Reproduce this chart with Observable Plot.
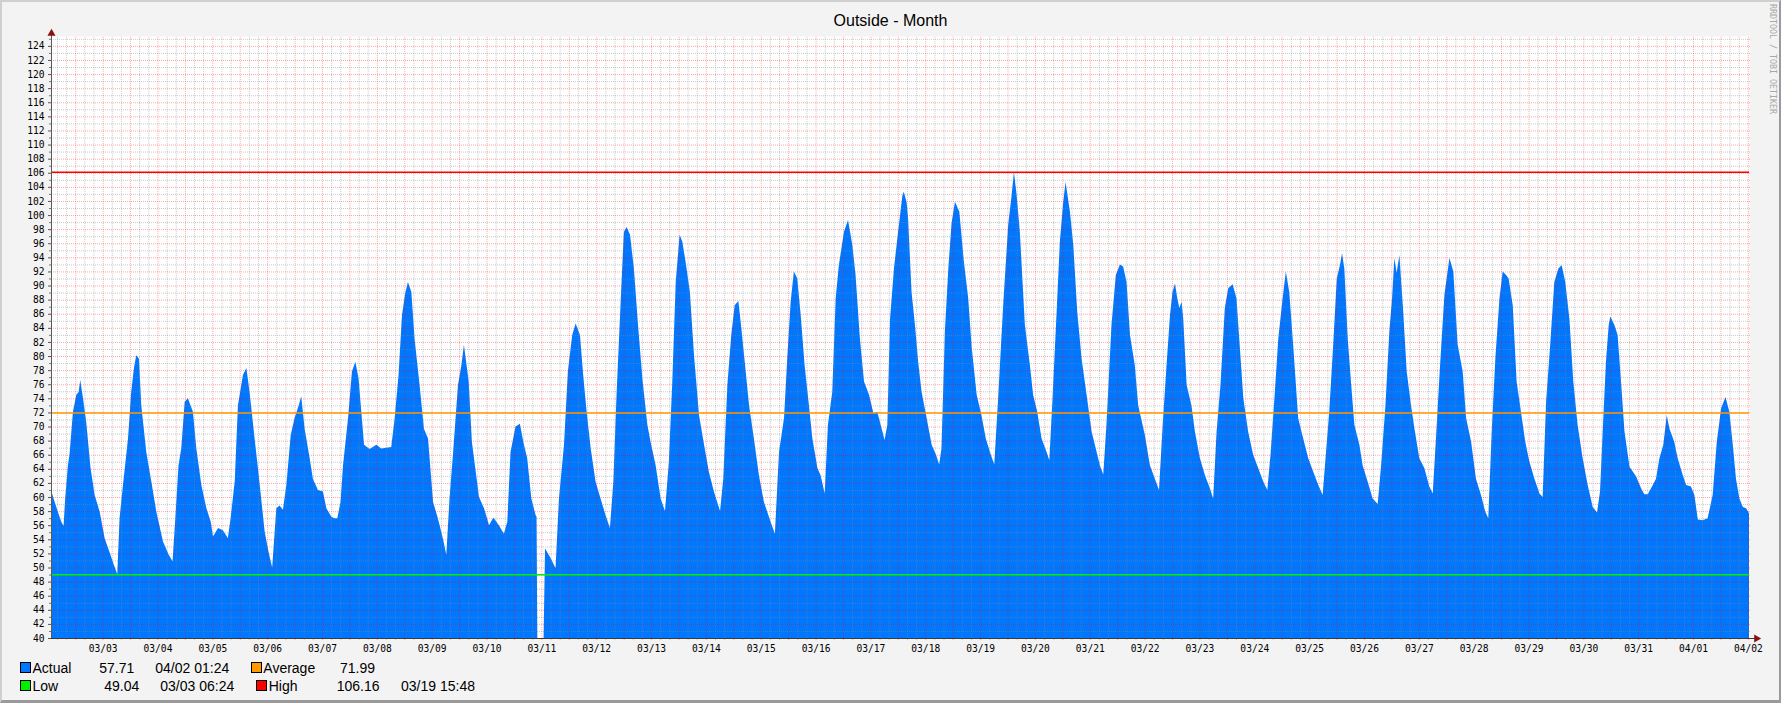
<!DOCTYPE html>
<html>
<head>
<meta charset="utf-8">
<script src="https://cdn.jsdelivr.net/npm/d3@7"></script>
<script src="https://cdn.jsdelivr.net/npm/@observablehq/plot@0.6"></script>
<style>
  html, body { margin: 0; padding: 0; background: #f3f3f3; }
  #card { position: relative; width: 1781px; height: 703px; background: #f3f3f3; overflow: hidden;
          font-family: "Liberation Sans", Arial, sans-serif; color: #000; }
  #card::after { content: ""; position: absolute; left: 0; top: 0; width: 1781px; height: 703px; box-sizing: border-box;
          border-top: 2px solid #cfcfcf; border-left: 2px solid #cfcfcf; border-right: 2px solid #9a9a9a; border-bottom: 3px solid #9a9a9a; pointer-events: none; }
  #chart { position: absolute; left: 0; top: 0; }
  #title { position: absolute; left: 0; top: 11px; width: 1781px; text-align: center; font-size: 16px; line-height: 20px; }
  #mark { position: absolute; left: 1768px; top: 4px; writing-mode: vertical-rl; font-family: "DejaVu Sans Mono", monospace;
          font-size: 8.3px; line-height: 9px; color: #a8a8a8; white-space: nowrap; }
  .lg { position: absolute; font-size: 14px; line-height: 16px; white-space: nowrap; }
  .sw { position: absolute; width: 9px; height: 9px; border: 1px solid #000; }
</style>
</head>
<body>
<div id="card">
  <div id="chart"></div>
  <div id="title"></div>
  <div id="mark"></div>
  <div id="legend"></div>
</div>
<script>
// ---------------- data ----------------
const chartTitle = "Outside - Month";
const watermark = "RRDTOOL / TOBI OETIKER";

// readings: [hours after 03/03 00:00, temperature]; null = missing data
const readings = [
  [-22.6,61.0],[-21.0,59.3],[-19.6,57.9],[-18.1,56.5],[-17.1,55.9],[-16.4,59.8],[-15.2,64.5],[-14.5,66.0],[-13.0,72.1],[-11.5,74.5],
  [-10.5,74.9],[-9.8,76.6],[-8.6,74.0],[-7.2,70.7],[-5.3,64.1],[-3.5,60.3],[-1.3,57.9],[0.9,54.1],[3.0,52.2],[4.9,50.4],
  [6.4,49.04],[7.4,57.0],[8.9,61.7],[11.1,68.3],[12.5,74.9],[13.7,78.3],[14.7,80.1],[15.9,79.6],[16.9,73.0],[19.1,66.4],
  [21.3,62.2],[23.5,57.9],[26.4,53.7],[28.9,51.8],[30.6,50.9],[31.8,57.0],[33.2,64.5],[34.4,66.9],[35.9,73.5],[37.3,74.0],
  [39.5,72.1],[41.0,66.9],[43.2,61.7],[45.4,58.4],[47.3,56.5],[48.3,54.4],[50.5,55.6],[52.6,55.3],[54.8,54.2],[56.0,57.0],
  [57.8,62.2],[59.2,73.0],[61.4,77.3],[62.9,78.3],[64.3,74.9],[66.5,68.3],[68.3,63.1],[70.9,55.1],[72.6,52.2],[74.2,50.0],
  [76.0,58.4],[77.4,58.8],[78.9,58.2],[80.4,61.7],[82.3,68.8],[84.0,71.2],[85.8,73.0],[86.9,74.3],[88.4,69.7],[90.6,65.5],
  [92.0,62.6],[94.2,61.0],[96.4,60.8],[97.9,58.4],[100.1,57.2],[101.5,57.0],[102.7,57.0],[104.1,59.3],[105.2,64.5],[107.4,71.2],
  [109.1,77.8],[110.6,79.2],[112.0,76.8],[113.2,72.1],[114.4,67.4],[116.8,66.8],[119.8,67.4],[121.9,66.9],[126.3,67.1],[127.8,71.2],
  [129.5,77.3],[131.0,85.8],[132.4,88.9],[133.6,90.5],[135.1,89.1],[136.5,82.5],[138.7,75.9],[140.6,69.7],[142.4,68.3],[144.6,59.3],
  [146.7,57.0],[148.9,54.1],[150.4,51.8],[151.8,59.8],[153.3,66.0],[155.5,75.9],[157.0,78.7],[158.1,81.6],[160.2,76.4],[161.6,67.8],
  [164.7,60.0],[166.9,58.4],[169.1,56.0],[171.0,57.1],[173.4,56.0],[175.6,54.8],[177.1,56.5],[178.5,66.4],[180.7,70.0],[182.6,70.4],
  [184.1,67.8],[185.8,65.5],[187.6,59.8],[189.5,57.4],[189.9,57.2],[191.0,null],[193.6,52.7],[196.1,51.3],[198.2,49.9],[199.7,59.8],
  [201.9,67.4],[203.6,77.8],[205.5,83.0],[207.0,84.6],[208.9,83.0],[210.3,77.3],[211.8,72.1],[213.6,66.9],[215.7,62.2],[217.9,59.8],
  [220.1,57.4],[222.0,55.6],[223.5,62.2],[224.9,74.5],[226.7,87.7],[228.1,97.6],[229.3,98.3],[230.8,97.2],[232.5,92.4],[234.3,84.4],
  [236.2,76.8],[238.4,70.2],[239.8,67.8],[242.0,64.5],[244.2,59.8],[246.1,58.0],[247.8,65.0],[249.3,76.4],[250.8,90.5],[252.5,97.2],
  [253.7,96.2],[255.1,93.4],[257.0,89.1],[258.8,80.1],[261.0,71.6],[263.2,67.4],[265.3,63.6],[267.5,60.8],[270.2,58.0],[271.6,62.6],
  [273.4,75.9],[275.1,83.0],[276.6,87.2],[278.2,87.8],[279.2,84.9],[281.0,79.2],[282.9,73.0],[285.0,68.3],[287.2,63.1],[289.4,59.3],
  [292.3,56.5],[294.2,54.8],[296.0,66.4],[298.2,71.2],[299.6,79.7],[301.1,87.7],[302.5,92.0],[304.0,91.0],[305.5,85.8],[307.2,78.7],
  [309.1,73.0],[310.6,68.3],[312.8,64.1],[314.2,63.1],[316.0,60.5],[317.4,70.2],[319.3,74.9],[320.8,88.2],[322.2,92.9],[324.4,97.6],
  [326.2,99.3],[328.1,95.7],[329.5,91.5],[331.4,82.5],[333.2,76.4],[335.4,74.5],[337.3,71.9],[339.0,72.1],[340.5,70.2],[342.2,68.1],
  [343.4,70.2],[344.6,85.3],[346.3,92.4],[348.1,97.6],[350.0,102.8],[350.6,103.3],[351.8,101.9],[352.5,99.5],[354.0,89.1],[355.5,84.4],
  [356.9,79.2],[358.4,74.9],[360.6,71.2],[362.8,67.4],[364.7,66.0],[366.1,64.6],[367.1,66.9],[368.6,83.5],[370.1,92.4],[371.5,98.8],
  [373.0,101.9],[374.9,100.5],[376.9,93.4],[378.8,88.2],[380.3,81.3],[382.5,74.5],[384.6,71.6],[386.5,68.3],[388.3,66.4],[390.2,64.6],
  [391.9,74.0],[394.1,87.2],[396.3,98.6],[397.8,102.8],[398.8,106.16],[400.0,102.8],[401.4,97.6],[403.6,84.4],[405.8,78.7],[407.2,74.5],
  [409.0,72.1],[410.9,68.3],[413.1,66.4],[414.3,65.2],[415.7,74.0],[417.5,86.3],[418.9,96.2],[420.4,101.9],[421.4,104.7],[423.3,100.5],
  [424.8,95.7],[426.5,86.3],[428.4,79.7],[430.6,74.5],[432.8,69.3],[435.0,66.4],[436.4,64.5],[437.9,63.2],[439.3,70.2],[441.5,84.4],
  [443.4,91.5],[445.2,93.0],[446.6,92.7],[448.1,90.5],[449.6,83.0],[451.7,78.7],[453.2,73.0],[456.1,68.8],[458.3,64.5],[460.5,62.6],
  [462.3,61.0],[463.9,70.2],[465.6,78.7],[467.1,85.8],[468.2,89.1],[469.3,90.3],[470.3,88.2],[471.2,86.8],[472.2,87.7],[472.9,85.3],
  [474.4,75.9],[476.5,73.0],[478.0,69.3],[480.2,65.5],[482.4,63.1],[484.6,61.2],[486.0,59.8],[487.5,69.3],[489.2,75.9],[491.1,86.8],
  [492.6,89.6],[494.5,90.2],[496.2,88.2],[497.7,81.1],[499.2,74.0],[501.3,69.3],[503.5,66.0],[505.7,64.1],[507.9,62.2],[509.7,61.0],
  [511.1,66.0],[513.0,74.9],[514.5,82.5],[516.4,88.2],[517.8,92.0],[519.3,89.1],[521.0,81.6],[523.2,71.2],[525.4,68.3],[527.6,65.5],
  [529.8,63.6],[532.0,61.7],[533.9,60.3],[535.3,66.0],[536.8,72.1],[538.6,82.0],[540.1,91.0],[541.5,92.9],[542.4,94.6],[543.4,92.4],
  [544.9,82.5],[546.3,76.4],[547.8,70.2],[550.0,67.4],[551.4,64.5],[553.6,62.2],[555.8,59.8],[558.0,59.0],[559.5,64.5],[561.4,73.0],
  [563.1,83.5],[564.3,88.2],[565.3,93.9],[566.3,91.8],[567.5,94.3],[569.0,87.2],[570.7,77.8],[572.6,73.0],[574.1,69.7],[576.2,65.5],
  [578.4,64.1],[580.6,61.5],[582.1,60.5],[583.5,68.3],[585.3,78.7],[587.2,88.7],[588.6,92.0],[589.4,93.9],[591.1,92.0],[593.0,81.6],
  [595.2,77.8],[596.7,71.2],[598.9,67.8],[601.0,62.6],[603.2,60.3],[605.1,57.9],[606.4,57.0],[607.9,69.3],[609.5,79.7],[611.3,88.2],
  [612.7,92.0],[614.2,91.5],[615.3,91.0],[617.1,87.2],[618.8,76.4],[620.7,72.1],[622.6,67.8],[624.4,65.0],[626.6,62.6],[628.8,60.5],
  [630.2,60.0],[631.7,73.5],[633.4,81.1],[635.3,90.5],[637.1,92.4],[638.5,92.9],[640.1,90.5],[641.9,85.3],[643.6,76.4],[645.5,70.2],
  [647.7,65.5],[649.9,61.7],[652.1,58.6],[654.0,57.8],[655.3,60.8],[656.8,71.6],[657.9,79.2],[659.1,84.4],[659.8,85.6],[661.6,84.4],
  [663.0,83.0],[664.5,76.4],[666.0,69.3],[668.2,64.3],[671.1,62.9],[673.3,61.2],[674.7,60.4],[676.2,60.4],[678.4,61.7],[679.8,62.6],
  [681.3,65.5],[683.0,67.4],[684.5,71.6],[685.7,69.7],[687.8,67.8],[689.3,65.5],[691.5,63.1],[693.0,61.7],[695.1,61.5],[696.6,60.3],
  [698.1,56.8],[700.2,56.7],[702.4,57.0],[704.6,60.3],[706.4,67.8],[708.3,72.6],[710.2,74.2],[711.9,72.1],[713.4,67.4],[714.8,62.6],
  [716.3,59.8],[717.8,58.6],[719.2,58.4],[720.5,57.71]
];

const dayLabels = ["03/03","03/04","03/05","03/06","03/07","03/08","03/09","03/10","03/11","03/12","03/13","03/14","03/15","03/16","03/17",
  "03/18","03/19","03/20","03/21","03/22","03/23","03/24","03/25","03/26","03/27","03/28","03/29","03/30","03/31","04/01","04/02"];
const yTickValues = d3.range(40, 125, 2);          // labelled values 40 … 124
const windowHours = [-22.6, 720.5];                // visible time span
const yRange = [40, 125.4];

const legendNames  = ["Actual", "Average", "Low", "High"];
const legendValues = ["57.71", "71.99", "49.04", "106.16"];
const legendTimes  = ["04/02 01:24", "", "03/03 06:24", "03/19 15:48"];
const legendColors = ["#0077ff", "#ff9900", "#00ee00", "#ff0000"];

// ---------------- build ----------------
const YEAR = 2021;
const H0 = Date.UTC(YEAR, 2, 3);
const t = h => new Date(H0 + h * 3600e3);
const data = readings.map(([h, v]) => ({time: t(h), temp: v}));
const dayDates = dayLabels.map(s => { const [m, d] = s.split("/").map(Number); return new Date(Date.UTC(YEAR, m - 1, d)); });
const fmt = d3.utcFormat("%m/%d");

const [h0, h1] = windowHours;
const xMajor = d3.range(Math.ceil(h0 / 12) * 12, h1, 12).map(t);
const xMinor = d3.range(Math.ceil(h0 / 4) * 4, h1, 4).filter(h => h % 12 !== 0).map(t);
const yMajor = d3.range(42, yRange[1], 2);
const yMinor = d3.range(41, yRange[1], 2);
const gridTop = yRange[1], gridBottom = yRange[0] - 0.3;
const gridRight = t(h1 + 0.9);

const actual = +legendValues[0], average = +legendValues[1], low = +legendValues[2], high = +legendValues[3];

const chart = Plot.plot({
  width: 1781, height: 662,
  marginLeft: 51, marginRight: 32, marginTop: 36, marginBottom: 24,
  style: {background: "transparent", overflow: "visible", fontFamily: "DejaVu Sans Mono, monospace", fontSize: "9.6px", color: "#000"},
  x: {type: "utc", domain: [t(h0), t(h1)]},
  y: {domain: yRange},
  marks: [
    Plot.frame({fill: "#ffffff", stroke: "none"}),
    Plot.areaY(data, {x: "time", y: "temp", fill: legendColors[0], clip: true}),
    // minor grid
    Plot.ruleY(yMinor, {x1: t(h0), x2: gridRight, stroke: "#8a8a8a", strokeOpacity: 0.45, strokeDasharray: "1,1"}),
    Plot.ruleX(xMinor, {y1: gridBottom, y2: gridTop, stroke: "#8a8a8a", strokeOpacity: 0.45, strokeDasharray: "1,1"}),
    // major grid
    Plot.ruleY(yMajor, {x1: t(h0), x2: gridRight, stroke: "#ff0000", strokeOpacity: 0.35, strokeDasharray: "1,1"}),
    Plot.ruleX(xMajor, {y1: gridBottom, y2: gridTop, stroke: "#ff0000", strokeOpacity: 0.35, strokeDasharray: "1,1"}),
    // reference lines
    Plot.ruleY([low], {stroke: legendColors[2], strokeWidth: 1.5}),
    Plot.ruleY([average], {stroke: legendColors[1], strokeWidth: 1.5}),
    Plot.ruleY([high], {stroke: legendColors[3], strokeWidth: 1.5}),
    // axes lines + arrows
    Plot.ruleY([yRange[0]], {x1: t(h0), x2: t(h1 + 2.6), stroke: "#3a3a3a"}),
    Plot.ruleX([t(h0)], {y1: yRange[0], y2: yRange[1] + 0.35, stroke: "#5a5a5a"}),
    Plot.dot([0], {frameAnchor: "bottom-right", dx: 7, symbol: "triangle", rotate: 90, r: 3, fill: "#8b1010", stroke: "none"}),
    Plot.dot([0], {frameAnchor: "top-left", dy: -3, symbol: "triangle", r: 3, fill: "#8b1010", stroke: "none"}),
    // axis labels / ticks
    Plot.axisY(yTickValues, {tickSize: 3, tickPadding: 4, tickFormat: d => String(d), stroke: "#555", label: null}),
    Plot.axisY(yMinor, {tickSize: 2, text: null, stroke: "#777", label: null}),
    Plot.axisX(dayDates, {tickSize: 0, tickPadding: 7, tickFormat: fmt, label: null})
  ]
});
document.getElementById("chart").appendChild(chart);
document.getElementById("title").textContent = chartTitle;
document.getElementById("mark").textContent = watermark;

// legend (two rows, two columns)
const legend = document.getElementById("legend");
const slots = [
  {sw: [19.5, 662], name: 32.5, val: 99.3,  time: 155.3, top: 659.5},
  {sw: [250.5, 662], name: 263.3, val: 340,  time: null, top: 659.5},
  {sw: [19.5, 680], name: 32.5, val: 104.3, time: 160.3, top: 677.5},
  {sw: [256, 680], name: 268.7, val: 336.7, time: 401, top: 677.5}
];
legendNames.forEach((name, i) => {
  const s = slots[i];
  const sw = document.createElement("div");
  sw.className = "sw"; sw.style.left = s.sw[0] + "px"; sw.style.top = s.sw[1] + "px"; sw.style.background = legendColors[i];
  legend.appendChild(sw);
  const add = (txt, x) => { const e = document.createElement("div"); e.className = "lg"; e.style.left = x + "px"; e.style.top = s.top + "px"; e.textContent = txt; legend.appendChild(e); };
  add(name, s.name);
  add(legendValues[i], s.val);
  if (legendTimes[i]) add(legendTimes[i], s.time);
});
</script>
</body>
</html>
